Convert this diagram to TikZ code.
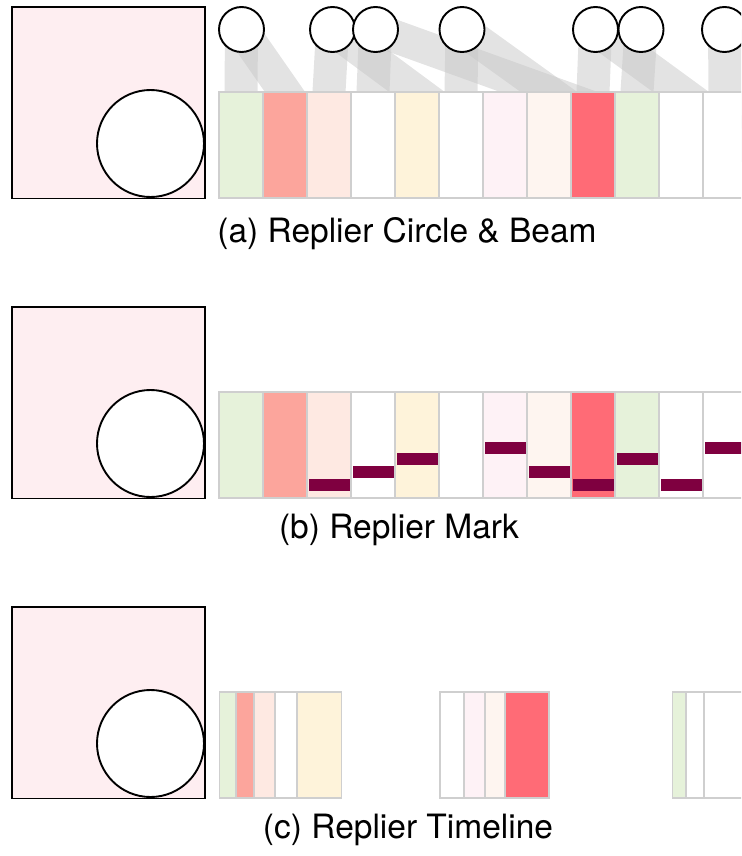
\documentclass[tikz,border=0pt]{standalone}
\usepackage{fontspec}
\setmainfont{TeX Gyre Heros}
\pgfdeclarelayer{beams}
\pgfsetlayers{beams,main}

\definecolor{sqpink}{HTML}{FEEEF1}
\definecolor{cg}{HTML}{E6F2DA}
\definecolor{cs}{HTML}{FCA59C}
\definecolor{cp}{HTML}{FEE9E2}
\definecolor{cy}{HTML}{FEF3DA}
\definecolor{cpk}{HTML}{FEF2F6}
\definecolor{cpl}{HTML}{FEF5F0}
\definecolor{cr}{HTML}{FF6B76}
\definecolor{cellline}{HTML}{CFCFCF}
\definecolor{markcol}{HTML}{7F0040}

\tikzset{
  frame/.style={draw=black, line width=1.9pt, fill=sqpink},
  bigdot/.style={circle, draw=black, line width=1.9pt, fill=white, minimum size=107pt, inner sep=0pt},
  replier/.style={circle, draw=black, line width=1.9pt, fill=white, minimum size=45pt, inner sep=0pt},
  cell/.style={rectangle, draw=cellline, line width=1.5pt, minimum width=44pt, minimum height=106pt, inner sep=0pt, outer sep=0pt},
  beam/.style={draw=black!22, draw opacity=.5, line width=33pt, shorten >=-70pt},
  replymark/.style={fill=markcol},
  caption/.style={font=\fontsize{33.5}{40}\selectfont, inner sep=0pt}
}

\begin{document}
\begin{tikzpicture}[x=1pt,y=-1pt]
\useasboundingbox (0,0) rectangle (741,856);
\clip (0,0) rectangle (741,856);

% left overview squares with their large circles
\foreach \oy/\p in {0/a,300/b,600/c} {
  \node[frame, minimum width=193pt, minimum height=191.5pt, inner sep=0pt, outer sep=0pt] (sq\p) at (108.5, 102.75+\oy) {};
  \node[bigdot] (big\p) at (150.5, 143.5+\oy) {};
}

% reply strips of panels (a) and (b)
\foreach \c [count=\i] in {cg,cs,cp,white,cy,white,cpk,cpl,cr,cg,white,white} {
  \node[cell, fill=\c] (a\i) at ({197+44*\i},145) {};
  \node[cell, fill=\c] (b\i) at ({197+44*\i},445) {};
}

% repliers of panel (a)
\foreach \x [count=\i] in {241.5,332.5,375.5,462,595.5,641,724.5}
  \node[replier] (r\i) at (\x,29.5) {};

% beams from each replier to its replies
\begin{pgfonlayer}{beams}
  \clip (0,0) rectangle (741,856);
  \foreach \r/\t in {1/1,1/2,2/3,2/5,3/4,3/8,4/6,4/8,5/9,5/11,6/10,7/12}
    \draw[beam] (r\r.center) -- (a\t.north);
\end{pgfonlayer}

% marks of panel (b)
\foreach \i/\ya/\yb in {3/478.5/490.5,4/465.5/477.5,5/452.5/464.5,7/441.5/453.5,8/465.5/477.5,9/478.5/490.5,10/452.5/464.5,11/478.5/490.5,12/441.5/453.5}
  \fill[replymark] ([xshift=1.5pt]b\i.west |- 0,\ya) rectangle ([xshift=-1.5pt]b\i.east |- 0,\yb);

% timeline strip of panel (c)
\foreach \xa/\xb/\c [count=\i] in {219.5/236/cg,236/254/cs,254/275/cp,275/297/white,297/341.5/cy,
                                  440/464/white,464/485/cpk,485/505/cpl,505/549/cr,
                                  672.5/686/cg,686/704/white,704/760/white}
  \node[cell, fill=\c, minimum width={(\xb-\xa)*1pt}] (t\i) at ({(\xa+\xb)/2},745) {};

% captions
\node[caption] (capa) at (407,234) {(a) Replier Circle \& Beam};
\node[caption] (capb) at (399,530) {(b) Replier Mark};
\node[caption] (capc) at (408,830) {(c) Replier Timeline};
\end{tikzpicture}
\end{document}
